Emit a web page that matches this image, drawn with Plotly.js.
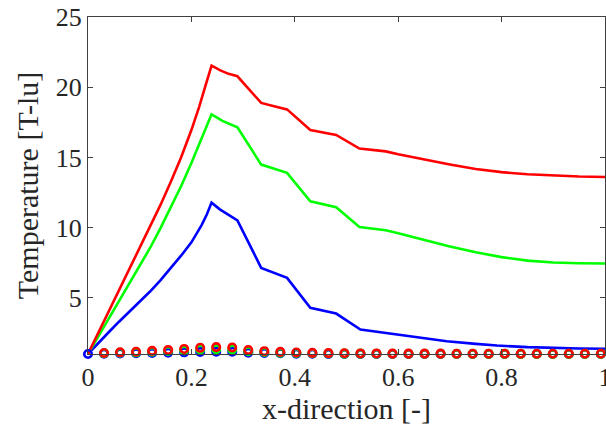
<!DOCTYPE html>
<html>
<head>
<meta charset="utf-8">
<script src="https://cdn.plot.ly/plotly-3.0.1.min.js"></script>
<style>html,body{margin:0;padding:0;background:#fff;}#plot{width:606px;height:434px;}</style>
</head>
<body>
<div id="plot"></div>
<script>
// Line series (temperature profiles)
const redX = [0, 0.04, 0.08, 0.12, 0.14, 0.16, 0.18, 0.2, 0.215, 0.228, 0.239, 0.256, 0.272, 0.289, 0.335, 0.36, 0.385, 0.43, 0.455, 0.48, 0.525, 0.55, 0.576, 0.6, 0.65, 0.7, 0.75, 0.8, 0.85, 0.9, 0.95, 1.0];
const redY = [1, 4.0, 7.0, 10.0, 11.6, 13.25, 15.0, 16.95, 18.6, 20.2, 21.53, 21.2, 20.95, 20.78, 18.88, 18.65, 18.42, 16.95, 16.8, 16.6, 15.63, 15.52, 15.43, 15.22, 14.85, 14.5, 14.18, 13.95, 13.8, 13.7, 13.64, 13.61];

const greenX = [0, 0.04, 0.08, 0.12, 0.14, 0.16, 0.18, 0.2, 0.215, 0.228, 0.239, 0.26, 0.289, 0.335, 0.36, 0.385, 0.43, 0.455, 0.48, 0.525, 0.55, 0.576, 0.6, 0.65, 0.7, 0.75, 0.8, 0.85, 0.9, 0.95, 1.0];
const greenY = [1, 3.5, 6.0, 8.55, 9.95, 11.4, 12.95, 14.6, 15.95, 17.1, 18.07, 17.6, 17.14, 14.49, 14.2, 13.9, 11.88, 11.67, 11.45, 10.05, 9.93, 9.81, 9.6, 9.1, 8.65, 8.25, 7.9, 7.65, 7.52, 7.46, 7.44];

const blueX = [0, 0.02, 0.04, 0.06, 0.08, 0.1, 0.12, 0.14, 0.16, 0.18, 0.2, 0.21, 0.22, 0.23, 0.239, 0.255, 0.272, 0.289, 0.335, 0.36, 0.385, 0.43, 0.455, 0.48, 0.527, 0.55, 0.578, 0.604, 0.65, 0.694, 0.75, 0.791, 0.85, 0.888, 0.95, 1.0];
const blueY = [1, 1.8, 2.55, 3.3, 4.0, 4.7, 5.45, 6.25, 7.1, 8.0, 8.95, 9.55, 10.2, 10.95, 11.78, 11.3, 10.93, 10.52, 7.13, 6.75, 6.42, 4.29, 4.1, 3.88, 2.74, 2.62, 2.51, 2.37, 2.1, 1.91, 1.72, 1.6, 1.49, 1.44, 1.39, 1.37];

// Marker series (circles near T = 1)
const mkX = [0, 0.031, 0.062, 0.093, 0.124, 0.155, 0.186, 0.217, 0.248, 0.279, 0.31, 0.341, 0.372, 0.403, 0.434, 0.465, 0.496, 0.527, 0.558, 0.589, 0.62, 0.651, 0.682, 0.713, 0.744, 0.775, 0.806, 0.837, 0.868, 0.899, 0.93, 0.961, 0.992];
const mkBlueY = [1, 1.02, 1.04, 1.06, 1.08, 1.1, 1.12, 1.15, 1.17, 1.16, 1.1, 1.07, 1.05, 1.03, 1.02, 1.01, 1.01, 1.0, 1.0, 1.0, 1.0, 1.0, 1.0, 1.0, 1.0, 1.0, 1.0, 1.0, 1.0, 1.0, 1.0, 1.0, 1.0];
const mkGreenX = mkX.slice(1);
const mkGreenY = [1.05, 1.09, 1.12, 1.16, 1.21, 1.26, 1.32, 1.35, 1.33, 1.2, 1.14, 1.1, 1.07, 1.05, 1.04, 1.03, 1.03, 1.02, 1.02, 1.02, 1.02, 1.02, 1.01, 1.01, 1.01, 1.01, 1.01, 1.01, 1.01, 1.01, 1.01, 1.01];
const mkRedX = mkX.slice(1);
const mkRedY = [1.07, 1.12, 1.16, 1.22, 1.29, 1.36, 1.44, 1.49, 1.46, 1.28, 1.2, 1.15, 1.11, 1.08, 1.06, 1.05, 1.04, 1.04, 1.03, 1.03, 1.03, 1.03, 1.02, 1.02, 1.02, 1.02, 1.02, 1.02, 1.02, 1.02, 1.02, 1.02];

const xTicks = [0, 0.2, 0.4, 0.6, 0.8, 1];
const xTickText = ['0', '0.2', '0.4', '0.6', '0.8', '1'];
const yTicks = [5, 10, 15, 20, 25];
const yTickText = ['5', '10', '15', '20', '25'];

const LW = 2.6;
const mk = (c) => ({symbol: 'circle-open', size: 7.5, color: c, line: {width: 2.6, color: c}});
const traces = [
  {x: blueX, y: blueY, mode: 'lines', line: {color: '#0000ff', width: LW}},
  {x: greenX, y: greenY, mode: 'lines', line: {color: '#00ff00', width: LW}},
  {x: redX, y: redY, mode: 'lines', line: {color: '#ff0000', width: LW}},
  {x: mkX, y: mkBlueY, mode: 'markers', cliponaxis: false, marker: mk('#0000ff')},
  {x: mkGreenX, y: mkGreenY, mode: 'markers', cliponaxis: false, marker: mk('#00ff00')},
  {x: mkRedX, y: mkRedY, mode: 'markers', cliponaxis: false, marker: mk('#ff0000')}
];

const FONT = 'Liberation Serif, Times New Roman, serif';
const axisBase = {
  showgrid: false, zeroline: false, showline: true, mirror: 'ticks',
  linecolor: '#404040', linewidth: 1, ticks: 'inside', ticklen: 5, tickwidth: 1, tickcolor: '#404040',
  ticklabeloverflow: 'allow',
  tickfont: {family: FONT, size: 26, color: '#262626'}
};
const layout = {
  width: 606, height: 434,
  margin: {l: 88, r: 1, t: 17, b: 80, pad: 0},
  paper_bgcolor: '#ffffff', plot_bgcolor: '#ffffff',
  showlegend: false,
  xaxis: Object.assign({}, axisBase, {
    range: [0, 1], tickvals: xTicks, ticktext: xTickText,
    title: {text: 'x-direction [-]', font: {family: FONT, size: 30, color: '#262626'}, standoff: 6}
  }),
  yaxis: Object.assign({}, axisBase, {
    range: [1, 25], tickvals: yTicks, ticktext: yTickText,
    title: {text: 'Temperature [T-lu]', font: {family: FONT, size: 30, color: '#262626'}, standoff: 8}
  })
};
Plotly.newPlot('plot', traces, layout, {displayModeBar: false, staticPlot: true});
</script>
</body>
</html>
